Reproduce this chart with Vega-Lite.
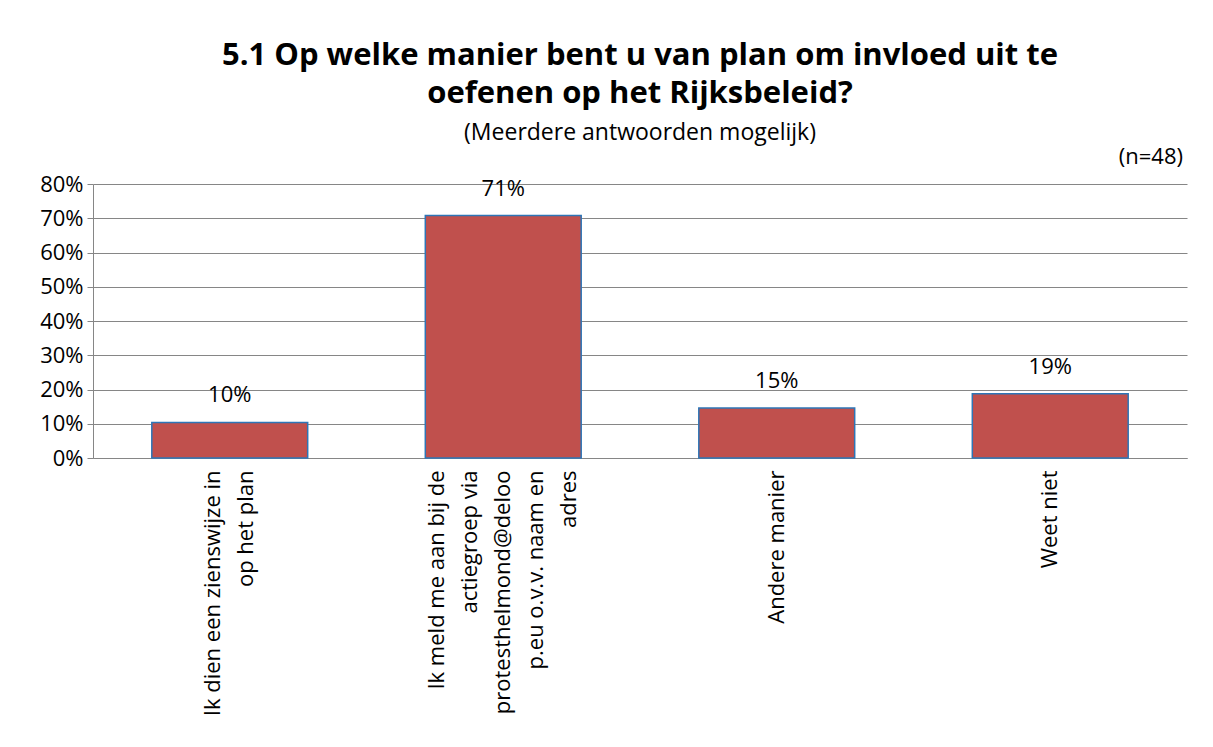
{
  "$schema": "https://vega.github.io/schema/vega-lite/v6.json",
  "width": 1094,
  "height": 274,
  "autosize": "none",
  "padding": {"left": 93, "top": 184, "right": 26, "bottom": 289},
  "background": "white",
  "config": {
    "font": "Open Sans",
    "view": {"stroke": null},
    "axis": {"labelFont": "Open Sans", "labelColor": "black", "labelFontSize": 22, "domainColor": "#868686", "tickColor": "#868686", "gridColor": "#868686"},
    "axisY": {"tickCount": 10, "labelOverlap": false}
  },
  "title": {
    "text": ["5.1 Op welke manier bent u van plan om invloed uit te", "oefenen op het Rijksbeleid?"],
    "subtitle": "(Meerdere antwoorden mogelijk)",
    "font": "Open Sans",
    "subtitleFont": "Open Sans",
    "fontSize": 31,
    "fontWeight": "bold",
    "lineHeight": 38,
    "color": "black",
    "subtitleFontSize": 23,
    "subtitleColor": "black",
    "subtitlePadding": 12,
    "anchor": "middle",
    "offset": 0
  },
  "data": {
    "values": [
      {"answer": "Ik dien een zienswijze in op het plan", "pct": 0.104},
      {"answer": "Ik meld me aan bij de actiegroep via protesthelmond@deloop.eu o.v.v. naam en adres", "pct": 0.708},
      {"answer": "Andere manier", "pct": 0.146},
      {"answer": "Weet niet", "pct": 0.1875}
    ]
  },
  "layer": [
    {
      "mark": {"type": "bar", "fill": "#C0504D", "stroke": "#2E75B6", "strokeWidth": 1.5},
      "encoding": {
        "x": {
          "field": "answer",
          "type": "nominal",
          "sort": null,
          "scale": {"paddingInner": 0.43, "paddingOuter": 0.215},
          "axis": {
            "title": null,
            "labelAngle": 270,
            "labelAlign": "right",
            "labelBaseline": "middle",
            "labelLineHeight": 33,
            "labelPadding": 12,
            "labelLimit": 400,
            "ticks": false,
            "labelOffset": {"condition": [{"test": "length(datum.value) > 60", "value": -66}, {"test": "datum.value == 'Ik dien een zienswijze in op het plan'", "value": -16.5}], "value": 0},
            "labelExpr": "datum.value == 'Ik dien een zienswijze in op het plan' ? ['Ik dien een zienswijze in', 'op het plan'] : datum.value == 'Andere manier' ? 'Andere manier' : datum.value == 'Weet niet' ? 'Weet niet' : ['Ik meld me aan bij de', 'actiegroep via', 'protesthelmond@deloo', 'p.eu o.v.v. naam en', 'adres']"
          }
        },
        "y": {
          "field": "pct",
          "type": "quantitative",
          "scale": {"domain": [0, 0.8]},
          "axis": {"title": null, "format": ".0%", "values": [0, 0.1, 0.2, 0.3, 0.4, 0.5, 0.6, 0.7, 0.8], "labelOverlap": false, "tickCount": 10, "tickSize": 6, "labelPadding": 4}
        }
      }
    },
    {
      "mark": {"type": "text", "fontSize": 22, "baseline": "bottom", "dy": -15, "color": "black"},
      "encoding": {
        "x": {"field": "answer", "type": "nominal", "sort": null},
        "y": {"field": "pct", "type": "quantitative", "axis": {"title": null, "format": ".0%", "values": [0, 0.1, 0.2, 0.3, 0.4, 0.5, 0.6, 0.7, 0.8], "labelOverlap": false, "tickCount": 10, "tickSize": 6, "labelPadding": 4}},
        "text": {"field": "pct", "format": ".0%"}
      }
    },
    {
      "data": {"values": [{"note": "(n=48)"}]},
      "mark": {"type": "text", "fontSize": 22, "align": "right", "baseline": "middle", "dy": -27, "color": "black"},
      "encoding": {
        "text": {"field": "note"},
        "x": {"value": {"expr": "width - 4"}},
        "y": {"datum": 0.8, "type": "quantitative", "axis": {"title": null, "format": ".0%", "values": [0, 0.1, 0.2, 0.3, 0.4, 0.5, 0.6, 0.7, 0.8], "labelOverlap": false, "tickCount": 10, "tickSize": 6, "labelPadding": 4}}
      }
    }
  ]
}
